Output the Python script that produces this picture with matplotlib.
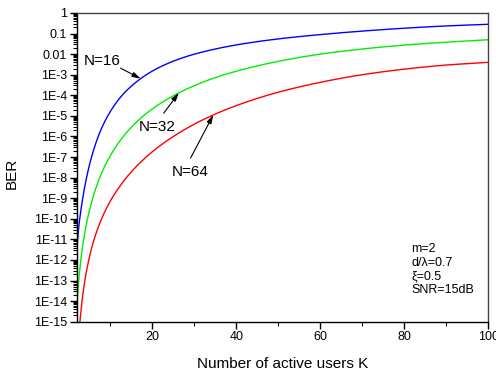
import numpy as np
import matplotlib
matplotlib.use("Agg")
import matplotlib.pyplot as plt
from matplotlib.ticker import FixedLocator, LogLocator, NullFormatter, FixedFormatter

plt.rcParams['font.family'] = ['Liberation Sans', 'DejaVu Sans']

# Number of active users K and log10(BER)
k_n16 = [2, 2.5, 3, 3.5, 4, 5, 6, 7, 8, 10, 12, 14, 17, 20, 25, 30, 35, 40, 50, 60, 70, 80, 90, 100]
ber_log_n16 = [-11.45, -10.3, -9.52, -8.87, -8.31, -7.38, -6.65, -6.05, -5.55, -4.78, -4.19,
               -3.74, -3.22, -2.82, -2.34, -2.00, -1.75, -1.55, -1.26, -1.05, -0.88, -0.74,
               -0.63, -0.55]

k_n32 = [2, 2.5, 3, 3.5, 4, 5, 6, 7, 8, 10, 12, 14, 17, 20, 25, 30, 35, 40, 50, 60, 70, 80, 90, 100]
ber_log_n32 = [-14.2, -12.85, -11.9, -11.16, -10.55, -9.59, -8.84, -8.24, -7.73, -6.92, -6.29,
               -5.77, -5.15, -4.66, -4.02, -3.53, -3.14, -2.83, -2.35, -2.00, -1.75, -1.56,
               -1.42, -1.30]

k_n64 = [2.5, 3, 3.5, 4, 5, 6, 7, 8, 10, 12, 14, 17, 20, 25, 30, 35, 40, 50, 60, 70, 80, 90, 100]
ber_log_n64 = [-15.54, -14.42, -13.56, -12.88, -11.85, -11.07, -10.46, -9.95, -9.13, -8.49,
               -7.95, -7.29, -6.74, -6.00, -5.40, -4.91, -4.50, -3.85, -3.37, -3.00, -2.73,
               -2.53, -2.40]

series_labels = ["N=16", "N=32", "N=64"]
y_tick_values = [1e0, 1e-1, 1e-2, 1e-3, 1e-4, 1e-5, 1e-6, 1e-7, 1e-8, 1e-9,
                 1e-10, 1e-11, 1e-12, 1e-13, 1e-14, 1e-15]
y_tick_labels = ["1", "0.1", "0.01", "1E-3", "1E-4", "1E-5", "1E-6", "1E-7", "1E-8",
                 "1E-9", "1E-10", "1E-11", "1E-12", "1E-13", "1E-14", "1E-15"]
x_tick_values = [20, 40, 60, 80, 100]
params_text = ["m=2", "d/\u03bb=0.7", "\u03be=0.5", "SNR=15dB"]


def pchip(x, y, xq):
    x = np.asarray(x, float)
    y = np.asarray(y, float)
    h = np.diff(x)
    d = np.diff(y) / h
    n = len(x)
    m = np.zeros(n)
    for i in range(1, n - 1):
        if d[i - 1] * d[i] <= 0:
            m[i] = 0
        else:
            w1 = 2 * h[i] + h[i - 1]
            w2 = h[i] + 2 * h[i - 1]
            m[i] = (w1 + w2) / (w1 / d[i - 1] + w2 / d[i])
    m[0] = d[0]
    m[-1] = d[-1]
    idx = np.clip(np.searchsorted(x, xq) - 1, 0, n - 2)
    t = (xq - x[idx]) / h[idx]
    h00 = 2 * t**3 - 3 * t**2 + 1
    h10 = t**3 - 2 * t**2 + t
    h01 = -2 * t**3 + 3 * t**2
    h11 = t**3 - t**2
    return (h00 * y[idx] + h10 * h[idx] * m[idx] + h01 * y[idx + 1]
            + h11 * h[idx] * m[idx + 1])


def curve(kx, ly, kq):
    return 10 ** pchip(np.log(kx), ly, np.log(kq))


fig = plt.figure(figsize=(4.96, 3.71), dpi=100)
ax = fig.add_axes([0.155, 0.133, 0.829, 0.832])

series = [(k_n16, ber_log_n16, '#0000ff'),
          (k_n32, ber_log_n32, '#00ee00'),
          (k_n64, ber_log_n64, '#ff0000')]
for kx, ly, c in series:
    xs = np.linspace(kx[0], kx[-1], 800)
    ax.plot(xs, curve(kx, ly, xs), color=c, lw=1.0)

ax.set_yscale('log')
ax.set_xlim(2, 100)
ax.set_ylim(1e-15, 1)

ax.yaxis.set_major_locator(FixedLocator(y_tick_values))
ax.yaxis.set_major_formatter(FixedFormatter(y_tick_labels))
ax.yaxis.set_minor_locator(LogLocator(base=10, subs=np.arange(2, 10), numticks=100))
ax.yaxis.set_minor_formatter(NullFormatter())
ax.xaxis.set_major_locator(FixedLocator(x_tick_values))
ax.xaxis.set_minor_locator(FixedLocator([10, 30, 50, 70, 90]))

ax.tick_params(axis='both', which='major', direction='out', length=5, width=1,
               labelsize=9, pad=2)
ax.tick_params(axis='both', which='minor', direction='out', length=3, width=0.8)
ax.tick_params(top=False, right=False, which='both')
for s in ['top', 'right']:
    ax.spines[s].set_color('#444444')
for s in ax.spines.values():
    s.set_linewidth(1.0)

ax.set_xlabel("Number of active users K", fontsize=11)
ax.set_ylabel("BER", fontsize=11)
ax.xaxis.set_label_coords(0.5, -0.115)
ax.yaxis.set_label_coords(-0.141, 0.482)

# annotations: (series idx, tip K on curve, text pos, arrow start)
ann = [(0, 17.2, (8.0, -2.34), (12.4, -2.68)),
       (1, 26.3, (21.1, -5.52), (22.7, -4.87)),
       (2, 34.5, (29.1, -7.71), (29.1, -7.05))]
for idx, ktip, tpos, spos in ann:
    kx, ly, _ = series[idx]
    ytip = curve(kx, ly, np.array([ktip]))[0]
    ax.text(tpos[0], 10 ** tpos[1], series_labels[idx], fontsize=11,
            ha='center', va='center')
    ax.annotate("", xy=(ktip, ytip), xytext=(spos[0], 10 ** spos[1]),
                arrowprops=dict(arrowstyle='-|>,head_length=0.5,head_width=0.15',
                                color='black', lw=0.8, shrinkA=0, shrinkB=0))

ax.text(0.813, 0.255, "\n".join(params_text), transform=ax.transAxes,
        fontsize=9, ha='left', va='top', linespacing=1.2)

fig.savefig("out.png", dpi=100)
